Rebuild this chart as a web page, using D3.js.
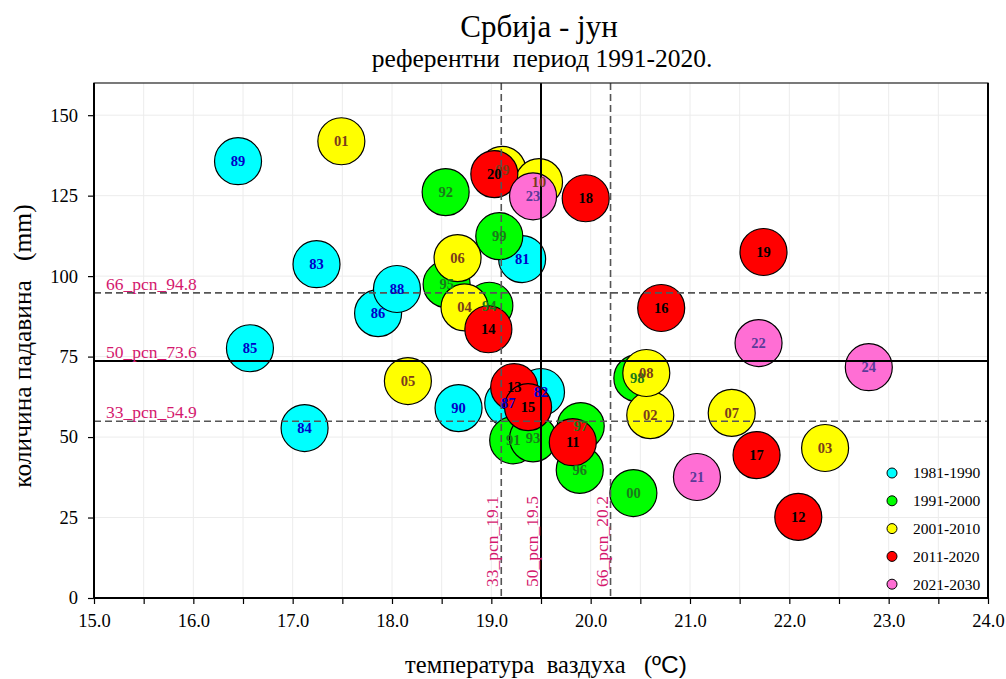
<!DOCTYPE html>
<html>
<head>
<meta charset="utf-8">
<script src="https://cdn.jsdelivr.net/npm/d3@7"></script>
<style>
  body { margin: 0; background: #fff; }
  text { font-family: "Liberation Serif", "Times New Roman", serif; }
</style>
</head>
<body>
<script>
// decades, one array per field
let decades = ["1981-1990", "1991-2000", "2001-2010", "2011-2020", "2021-2030"];
let fills = ["#00ffff", "#00ff00", "#ffff00", "#ff0000", "#ff6ed4"];
let labelColors = ["#0000c8", "#1a7a1a", "#7a3c1c", "#000000", "#5a3a98"];

let years81 = ["81", "82", "83", "84", "85", "86", "87", "88", "89", "90"];
let temp81 = [19.31, 19.50, 17.24, 17.12, 16.57, 17.86, 19.17, 18.05, 16.45, 18.67];
let rain81 = [105.3, 64.0, 103.7, 52.8, 77.6, 88.5, 60.6, 96.0, 135.7, 59.0];

let years91 = ["91", "92", "93", "94", "95", "96", "97", "98", "99", "00"];
let temp91 = [19.22, 18.54, 19.42, 18.98, 18.55, 19.89, 19.90, 20.47, 19.08, 20.43];
let rain91 = [49.0, 126.1, 49.6, 90.8, 97.5, 39.8, 53.4, 68.3, 112.4, 32.6];

let years01 = ["01", "02", "03", "04", "05", "06", "07", "08", "09", "10"];
let temp01 = [17.49, 20.60, 22.36, 18.73, 18.16, 18.66, 21.42, 20.56, 19.11, 19.48];
let rain01 = [141.9, 56.8, 46.6, 90.3, 67.4, 105.6, 57.5, 69.9, 133.0, 129.2];

let years11 = ["11", "12", "13", "14", "15", "16", "17", "18", "19", "20"];
let temp11 = [19.82, 22.09, 19.23, 18.97, 19.37, 20.71, 21.67, 19.95, 21.74, 19.03];
let rain11 = [48.4, 25.2, 65.5, 83.5, 59.3, 90.1, 44.4, 124.2, 107.5, 131.7];

let years21 = ["21", "22", "23", "24"];
let temp21 = [21.07, 21.69, 19.42, 22.80];
let rain21 = [37.6, 79.2, 124.8, 71.7];

let pcnNames = ["33", "50", "66"];
let pcnTemp = [19.1, 19.5, 20.2];
let pcnRain = [54.9, 73.6, 94.8];

let xTicks = d3.range(15, 24.01, 0.5);
let yTicks = [0, 25, 50, 75, 100, 125, 150];

let allYears = [years81, years91, years01, years11, years21];
let allTemp = [temp81, temp91, temp01, temp11, temp21];
let allRain = [rain81, rain91, rain01, rain11, rain21];

let points = [];
for (let s = 0; s < allYears.length; ++s) {
    for (let i = 0; i < allYears[s].length; ++i) {
        points.push({s: s, year: allYears[s][i], t: allTemp[s][i], r: allRain[s][i]});
    }
}

draw();

function draw() {
    let width = 1006, height = 679;
    let left = 94, right = 988, top = 83, bottom = 598;
    let radius = 23.5;

    let x = d3.scaleLinear().domain([15, 24]).range([left, right]);
    let y = d3.scaleLinear().domain([0, 160]).range([bottom, top]);

    let svg = d3.select("body").append("svg")
        .attr("width", width)
        .attr("height", height);

    // grid
    svg.append("g").selectAll("line")
        .data(xTicks.slice(1, -1))
        .enter().append("line")
        .attr("x1", d => x(d)).attr("x2", d => x(d))
        .attr("y1", top).attr("y2", bottom)
        .attr("stroke", "#ececec").attr("stroke-width", 1);
    svg.append("g").selectAll("line")
        .data(yTicks.slice(1))
        .enter().append("line")
        .attr("x1", left).attr("x2", right)
        .attr("y1", d => y(d)).attr("y2", d => y(d))
        .attr("stroke", "#ececec").attr("stroke-width", 1);

    // circles, decade by decade
    svg.append("g").selectAll("circle")
        .data(points)
        .enter().append("circle")
        .attr("cx", d => x(d.t))
        .attr("cy", d => y(d.r))
        .attr("r", radius)
        .attr("fill", d => fills[d.s])
        .attr("stroke", "#000")
        .attr("stroke-width", 1.2);

    // percentile lines
    let pl = svg.append("g");
    pl.selectAll(".vline")
        .data(pcnTemp)
        .enter().append("line")
        .attr("x1", d => x(d)).attr("x2", d => x(d))
        .attr("y1", top).attr("y2", bottom)
        .attr("stroke", (d, i) => i === 1 ? "#000" : "#555")
        .attr("stroke-width", (d, i) => i === 1 ? 2 : 1.6)
        .attr("stroke-dasharray", (d, i) => i === 1 ? null : "7,4");
    pl.selectAll(".hline")
        .data(pcnRain)
        .enter().append("line")
        .attr("x1", left).attr("x2", right)
        .attr("y1", d => y(d)).attr("y2", d => y(d))
        .attr("stroke", (d, i) => i === 1 ? "#000" : "#555")
        .attr("stroke-width", (d, i) => i === 1 ? 2 : 1.6)
        .attr("stroke-dasharray", (d, i) => i === 1 ? null : "7,4");

    pl.selectAll(".hlab")
        .data(pcnRain)
        .enter().append("text")
        .attr("x", x(15.12))
        .attr("y", d => y(d) - 3)
        .attr("fill", "#d4186e")
        .style("font-size", "17.5px")
        .text((d, i) => pcnNames[i] + "_pcn_" + d.toFixed(1));
    pl.selectAll(".vlab")
        .data(pcnTemp)
        .enter().append("text")
        .attr("transform", d => "translate(" + (x(d) - 3) + "," + (bottom - 11) + ") rotate(-90)")
        .attr("fill", "#d4186e")
        .style("font-size", "17.5px")
        .text((d, i) => pcnNames[i] + "_pcn_" + d.toFixed(1));

    // year labels on top
    svg.append("g").selectAll("text")
        .data(points)
        .enter().append("text")
        .attr("x", d => x(d.t))
        .attr("y", d => y(d.r))
        .attr("dy", "0.35em")
        .attr("text-anchor", "middle")
        .attr("fill", d => labelColors[d.s])
        .style("font-size", "14.5px")
        .style("font-weight", "bold")
        .text(d => d.year);

    // axes
    let xAxis = d3.axisBottom(x)
        .tickValues(xTicks)
        .tickSize(6)
        .tickSizeOuter(0)
        .tickPadding(10)
        .tickFormat(d => Number.isInteger(d) ? d.toFixed(1) : "");
    let gx = svg.append("g")
        .attr("transform", "translate(0," + bottom + ")")
        .call(xAxis);
    let yAxis = d3.axisLeft(y)
        .tickValues(yTicks)
        .tickSize(6)
        .tickSizeOuter(0)
        .tickPadding(10);
    let gy = svg.append("g")
        .attr("transform", "translate(" + left + ",0)")
        .call(yAxis);
    [gx, gy].forEach(function (g) {
        g.select(".domain").remove();
        g.selectAll("line").attr("stroke", "#000").attr("stroke-width", 1.2);
        g.selectAll("text")
            .style("font-family", "'Liberation Serif', 'Times New Roman', serif")
            .style("font-size", "18.5px")
            .attr("fill", "#000");
    });

    // frame
    svg.append("rect")
        .attr("x", left).attr("y", top)
        .attr("width", right - left).attr("height", bottom - top)
        .attr("fill", "none").attr("stroke", "#222").attr("stroke-width", 1.2);
    svg.append("line")
        .attr("x1", left).attr("x2", left).attr("y1", top).attr("y2", bottom)
        .attr("stroke", "#000").attr("stroke-width", 2);
    svg.append("line")
        .attr("x1", left).attr("x2", right).attr("y1", bottom).attr("y2", bottom)
        .attr("stroke", "#000").attr("stroke-width", 2);
    svg.append("line")
        .attr("x1", right).attr("x2", right).attr("y1", top).attr("y2", bottom)
        .attr("stroke", "#000").attr("stroke-width", 2);

    // legend
    let legend = svg.append("g").selectAll("g")
        .data(decades)
        .enter().append("g")
        .attr("transform", (d, i) => "translate(892," + (473 + i * 27.8) + ")");
    legend.append("circle")
        .attr("r", 5)
        .attr("fill", (d, i) => fills[i])
        .attr("stroke", "#000")
        .attr("stroke-width", 1);
    legend.append("text")
        .attr("x", 21)
        .attr("dy", "0.35em")
        .style("font-size", "15.5px")
        .text(d => d);

    // titles
    svg.append("text")
        .attr("x", 539).attr("y", 37)
        .attr("text-anchor", "middle")
        .style("font-size", "31px")
        .text("Србија - јун");
    svg.append("text")
        .attr("x", 542).attr("y", 67)
        .attr("text-anchor", "middle")
        .style("font-size", "25.5px")
        .style("white-space", "pre")
        .text("референтни  период 1991-2020.");

    let xl = svg.append("text")
        .attr("x", 546).attr("y", 673)
        .attr("text-anchor", "middle")
        .style("font-size", "24.5px")
        .style("white-space", "pre");
    xl.append("tspan").text("температура  ваздуха   (");
    xl.append("tspan").style("font-family", "'Liberation Sans', Arial, sans-serif").text("ºC");
    xl.append("tspan").style("font-family", "'Liberation Sans', Arial, sans-serif").text(")");

    svg.append("text")
        .attr("transform", "translate(31,346) rotate(-90)")
        .attr("text-anchor", "middle")
        .style("font-size", "25.5px")
        .style("white-space", "pre")
        .text("количина падавина   (mm)");
}
</script>
</body>
</html>
